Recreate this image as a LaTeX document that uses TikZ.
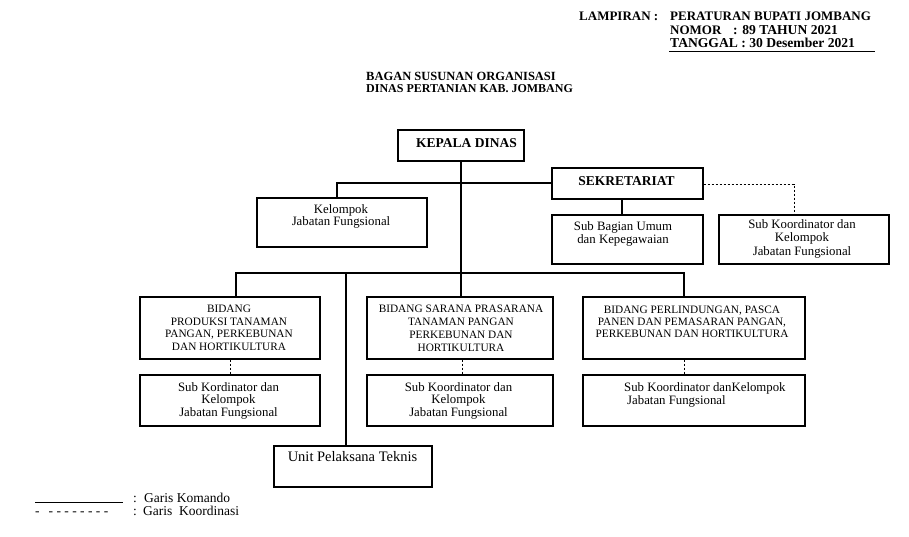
\documentclass[tikz,border=0pt]{standalone}
\usepackage{fontspec}
\setmainfont{Liberation Serif}
\begin{document}
\begin{tikzpicture}[x=1pt,y=-1pt,
  box/.style={draw, line width=1.1pt, inner sep=0pt},
  cmd/.style={line width=1.1pt},
  coord/.style={line width=0.8pt, dash pattern=on 2.5pt off 1.5pt},
  bt/.style={inner sep=0pt, align=center, anchor=base, font=\fontsize{12.8}{12.3}\selectfont},
  ct/.style={inner sep=0pt, align=center, anchor=base, font=\fontsize{11.3}{12.4}\selectfont},
  hb/.style={inner sep=0pt, anchor=base west, font=\bfseries\fontsize{13}{15}\selectfont},
  lg/.style={inner sep=0pt, anchor=base west, font=\fontsize{13.5}{15}\selectfont}]
\useasboundingbox (0,0) rectangle (909,537);

% header
\node[hb] (lam) at (579,21) {LAMPIRAN :};
\node[hb] (per) at (670,21) {PERATURAN BUPATI JOMBANG};
\node[hb] (nom) at (670,35) {NOMOR};
\node[hb, font=\bfseries\fontsize{13.6}{15}\selectfont] (nomv) at (733,35) {: 89 TAHUN 2021};
\node[hb, font=\bfseries\fontsize{13.6}{15}\selectfont] (tgl) at (670,48) {TANGGAL : 30 Desember 2021};
\coordinate (ulend) at (875,51);
\draw[line width=0.8pt] (669,51) -- (ulend);

% title
\node[hb, font=\bfseries\fontsize{12.5}{14}\selectfont] (t1) at (366,81) {BAGAN SUSUNAN ORGANISASI};
\node[hb, font=\bfseries\fontsize{12}{14}\selectfont] (t2) at (366,93) {DINAS PERTANIAN KAB. JOMBANG};

% boxes
\node[box, minimum width=126, minimum height=31] (kd) at (461,145.5) {};
\node[box, minimum width=151, minimum height=31] (sek) at (627.5,183.5) {};
\node[box, minimum width=170, minimum height=49] (kel) at (342,222.5) {};
\node[box, minimum width=151, minimum height=49] (sbu) at (627.5,239.5) {};
\node[box, minimum width=170, minimum height=49] (skr) at (804,239.5) {};
\node[box, minimum width=180, minimum height=62] (bd1) at (230,328) {};
\node[box, minimum width=186, minimum height=62] (bd2) at (460,328) {};
\node[box, minimum width=222, minimum height=62] (bd3) at (694,328) {};
\node[box, minimum width=180, minimum height=51] (sk1) at (230,400.5) {};
\node[box, minimum width=186, minimum height=51] (sk2) at (460,400.5) {};
\node[box, minimum width=222, minimum height=51] (sk3) at (694,400.5) {};
\node[box, minimum width=158, minimum height=41] (upt) at (353,466.5) {};

% box texts (anchor base = baseline of last line)
\node[bt, font=\bfseries\fontsize{13.5}{15}\selectfont] (kdt) at (466.5,148) {KEPALA DINAS};
\node[bt, font=\bfseries\fontsize{13.5}{15}\selectfont] (sekt) at (626.5,186) {SEKRETARIAT};
\node[bt, font=\fontsize{12.8}{11.3}\selectfont] (kelt) at (341,225.7) {Kelompok\\Jabatan Fungsional};
\node[bt, font=\fontsize{12.8}{10.5}\selectfont] (sbut) at (623,243.5) {Sub Bagian Umum\\dan Kepegawaian};
\node[bt, font=\fontsize{12.8}{13.3}\selectfont] (skrt) at (802,255) {Sub Koordinator dan\\Kelompok\\Jabatan Fungsional};
\node[ct] (bd1t) at (229,350) {BIDANG\\PRODUKSI TANAMAN\\PANGAN, PERKEBUNAN\\DAN HORTIKULTURA};
\node[ct, font=\fontsize{11.3}{12.7}\selectfont] (bd2t) at (461,351) {BIDANG SARANA PRASARANA\\TANAMAN PANGAN\\PERKEBUNAN DAN\\HORTIKULTURA};
\node[ct, font=\fontsize{11.3}{12}\selectfont] (bd3t) at (692,337) {BIDANG PERLINDUNGAN, PASCA\\PANEN DAN PEMASARAN PANGAN,\\PERKEBUNAN DAN HORTIKULTURA};
\node[bt] (sk1t) at (228.5,416) {Sub Kordinator dan\\Kelompok\\Jabatan Fungsional};
\node[bt] (sk2t) at (458.5,416) {Sub Koordinator dan\\Kelompok\\Jabatan Fungsional};
\node[bt, anchor=base west, align=left] (sk3t) at (624,404) {Sub Koordinator danKelompok\\\hspace*{3pt}Jabatan Fungsional};
\node[bt, font=\fontsize{14.5}{15}\selectfont] (uptt) at (352.5,461) {Unit Pelaksana Teknis};

% command lines
\coordinate (bus0) at (236,273);
\coordinate (busK) at (461,273);
\coordinate (busU) at (346,273);
\coordinate (busE) at (684,273);
\coordinate (kelj) at (337,183);
\draw[cmd] (kd.south) -- (busK);
\draw[cmd] (sek.west |- kelj) -- (kelj) -- (kelj |- kel.north);
\draw[cmd] ([xshift=-5.5pt]sek.south) -- ([xshift=-5.5pt]sbu.north);
\draw[cmd] (bus0 |- bd1.north) -- (bus0) -- (busE) -- (busE |- bd3.north);
\draw[cmd] (busK) -- (busK |- bd2.north);
\draw[cmd] (busU) -- (busU |- upt.north);

% coordination lines
\coordinate (sekd) at (794,184);
\draw[coord] (sek.east |- sekd) -- (sekd) -- (sekd |- skr.north);
\draw[coord] (bd1.south) -- (sk1.north);
\draw[coord] ([xshift=2pt]bd2.south) -- ([xshift=2pt]sk2.north);
\draw[coord] ([xshift=-10pt]bd3.south) -- ([xshift=-10pt]sk3.north);

% legend
\coordinate (la) at (35,502);
\coordinate (lb) at (123,502);
\draw[line width=0.9pt] (la) -- (lb);
\node[lg] (lc1) at (133,502) {:};
\node[lg] (lt1) at (144,502) {Garis Komando};
\node[lg] (ld) at (35,515) {-\hspace{9pt}- - - - - - - -};
\node[lg] (lc2) at (133,515) {:};
\node[lg] (lt2) at (143,515) {Garis\ \ Koordinasi};
\end{tikzpicture}
\end{document}
